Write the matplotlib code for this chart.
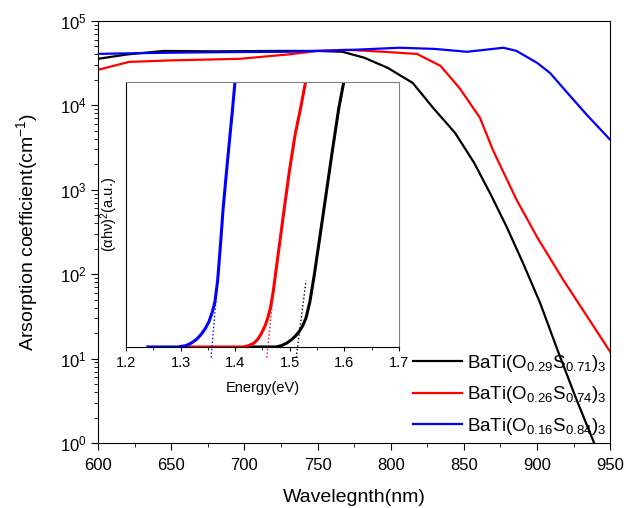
import matplotlib
matplotlib.use("Agg")
import matplotlib.pyplot as plt
from matplotlib.ticker import MultipleLocator, LogLocator, NullFormatter

plt.rcParams['font.family'] = ['Liberation Sans', 'DejaVu Sans']
plt.rcParams['mathtext.default'] = 'regular'

# main curves: absorption coefficient vs wavelength
wl_a = [600, 620, 645, 680, 720, 750, 767, 782, 798, 815, 829, 844, 857, 868, 879, 890, 902, 914, 926, 939, 945]
abs_a = [35500, 40000, 44000, 43500, 44000, 44000, 43000, 36500, 27700, 18400, 9300, 4700, 2080, 900, 370, 140, 46, 12.6, 3.6, 1.0, 0.6]

wl_b = [600, 621, 650, 697, 730, 750, 770, 795, 818, 834, 847, 861, 870, 886, 900, 918, 934, 950]
abs_b = [26300, 32600, 34000, 35500, 40000, 44000, 45500, 43000, 40500, 29300, 16000, 7100, 2900, 760, 275, 85, 32, 12]

wl_c = [600, 630, 680, 730, 770, 806, 830, 852, 865, 877, 886, 900, 909, 920, 934, 950]
abs_c = [40600, 41500, 42500, 43000, 45000, 48000, 46500, 43000, 45500, 48000, 44000, 31800, 24000, 14500, 7700, 3900]

labels = [r'BaTi(O$_{0.29}$S$_{0.71}$)$_3$',
          r'BaTi(O$_{0.26}$S$_{0.74}$)$_3$',
          r'BaTi(O$_{0.16}$S$_{0.84}$)$_3$']
colors = ['black', 'red', 'blue']

# inset: Tauc plot
e_a = [1.43, 1.475, 1.485, 1.495, 1.503, 1.51, 1.517, 1.524, 1.53, 1.537, 1.545, 1.555, 1.567, 1.579, 1.59, 1.602]
t_a = [0, 0, 0.005, 0.015, 0.027, 0.04, 0.057, 0.08, 0.11, 0.17, 0.27, 0.41, 0.58, 0.75, 0.9, 1.03]
e_b = [1.30, 1.415, 1.425, 1.435, 1.442, 1.448, 1.455, 1.46, 1.465, 1.47, 1.477, 1.49, 1.50, 1.51, 1.52, 1.532]
t_b = [0, 0, 0.005, 0.015, 0.03, 0.05, 0.08, 0.11, 0.15, 0.21, 0.32, 0.52, 0.67, 0.8, 0.9, 1.03]
e_c = [1.24, 1.295, 1.31, 1.32, 1.33, 1.338, 1.345, 1.352, 1.358, 1.363, 1.368, 1.373, 1.378, 1.386, 1.395, 1.402]
t_c = [0, 0, 0.005, 0.015, 0.03, 0.048, 0.068, 0.095, 0.13, 0.17, 0.25, 0.38, 0.52, 0.7, 0.89, 1.05]

# tangent lines (band gap extrapolation)
fit_a = ([1.512, 1.53], [-0.04, 0.25])
fit_b = ([1.458, 1.47], [-0.04, 0.2])
fit_c = ([1.356, 1.368], [-0.04, 0.25])

fig = plt.figure(figsize=(6.33, 5.08), dpi=100)
ax = fig.add_axes([0.155, 0.128, 0.809, 0.831])

for x, y, c, lab in zip([wl_a, wl_b, wl_c], [abs_a, abs_b, abs_c], colors, labels):
    ax.plot(x, y, color=c, lw=1.6, label=lab)

ax.set_yscale('log')
ax.set_xlim(600, 950)
ax.set_ylim(1, 1e5)
ax.xaxis.set_major_locator(MultipleLocator(50))
ax.xaxis.set_minor_locator(MultipleLocator(25))
ax.yaxis.set_major_locator(LogLocator(base=10, numticks=10))
ax.yaxis.set_minor_locator(LogLocator(base=10, subs=range(2, 10), numticks=50))
ax.yaxis.set_minor_formatter(NullFormatter())
ax.tick_params(which='both', direction='out', top=False, right=False, labelsize=12)
ax.tick_params(axis='x', which='major', pad=6)
ax.tick_params(which='major', length=5)
ax.tick_params(which='minor', length=3)
ax.set_xlabel('Wavelegnth(nm)', fontsize=14, labelpad=11)
ax.set_ylabel('Arsorption coefficient(cm$^{-1}$)', fontsize=14, labelpad=14)

leg = fig.legend(loc='upper left', bbox_to_anchor=(413 / 633, 1 - 353 / 508), frameon=False,
                 fontsize=13.5, handlelength=2.6, handletextpad=0.3, labelspacing=0.55,
                 borderaxespad=0, borderpad=0)

# inset
ins = fig.add_axes([0.199, 0.317, 0.431, 0.522])
for x, y, c in zip([e_a, e_b, e_c], [t_a, t_b, t_c], colors):
    ins.plot(x, y, color=c, lw=2.2)
for (fx, fy), c in zip([fit_a, fit_b, fit_c], colors):
    ins.plot(fx, fy, color=c, lw=1, ls=':', clip_on=False)
ins.set_xlim(1.2, 1.7)
ins.set_ylim(0, 1)
ins.xaxis.set_major_locator(MultipleLocator(0.1))
ins.xaxis.set_minor_locator(MultipleLocator(0.05))
ins.set_yticks([])
ins.tick_params(which='both', direction='out', top=False, right=False, labelsize=10.5)
ins.tick_params(which='major', length=3)
ins.tick_params(which='minor', length=2)
ins.spines['top'].set_color('gray')
ins.spines['right'].set_color('gray')
ins.set_xlabel('Energy(eV)', fontsize=10.5, labelpad=8)
ins.set_ylabel(r'$(\alpha h\nu)^{2}$(a.u.)', fontsize=10.5)

fig.savefig('out.png', dpi=100)
